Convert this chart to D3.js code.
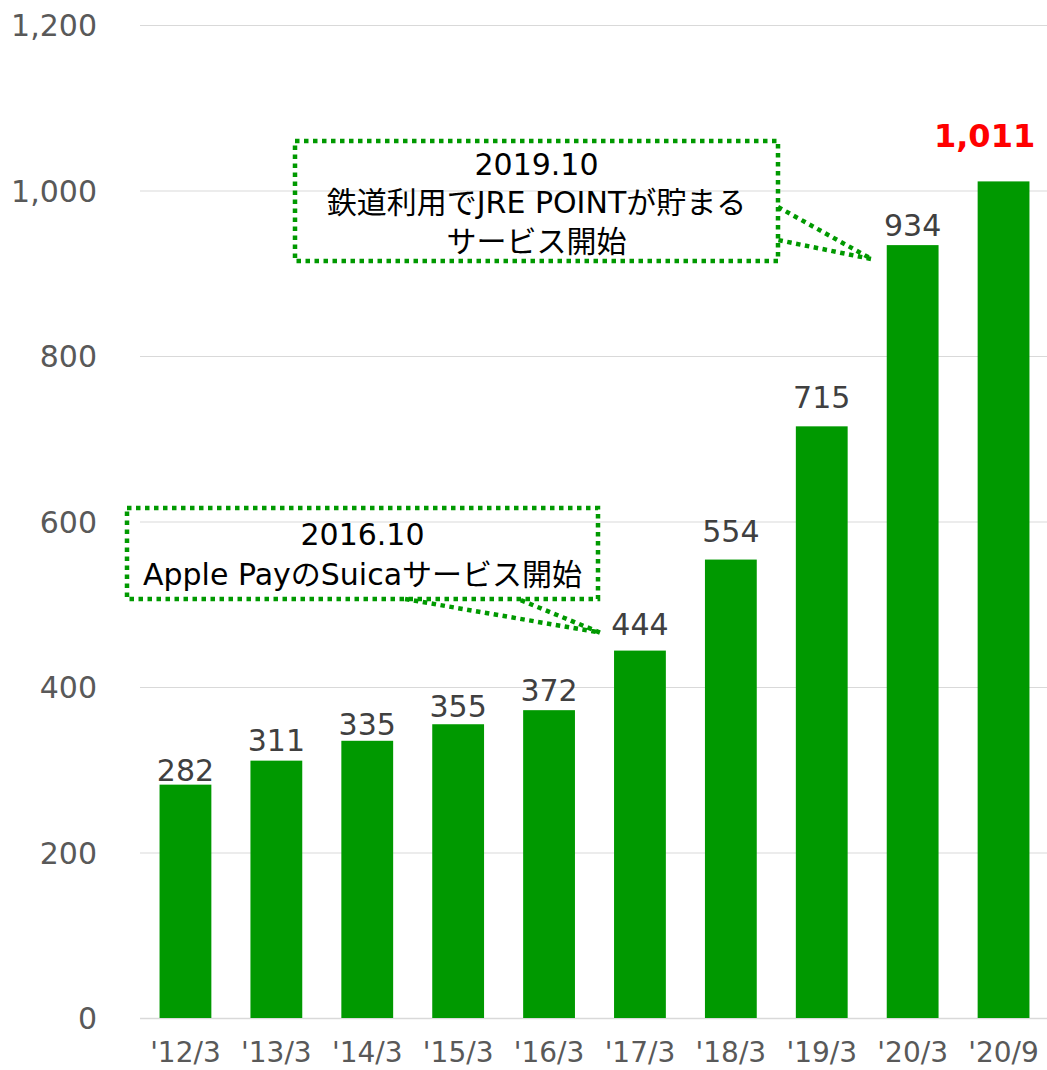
<!DOCTYPE html>
<html>
<head>
<meta charset="utf-8">
<script src="https://cdn.jsdelivr.net/npm/d3@7"></script>
<style>
  body { margin: 0; background: #fff; }
  text { font-family: "DejaVu Sans", "Noto Sans CJK JP", sans-serif; }
</style>
</head>
<body>
<svg id="chart" width="1047" height="1070"></svg>
<script>
const categories = ["'12/3", "'13/3", "'14/3", "'15/3", "'16/3", "'17/3", "'18/3", "'19/3", "'20/3", "'20/9"];
const values = [282, 311, 335, 355, 372, 444, 554, 715, 934, 1011];
const yTicks = [0, 200, 400, 600, 800, 1000, 1200];

const note1Lines = ["2019.10", "鉄道利用でJRE POINTが貯まる", "サービス開始"];
const note2Lines = ["2016.10", "Apple PayのSuicaサービス開始"];

const svg = d3.select('#chart');
const green = '#009900';
// gap between label baseline and bar top (labels were placed by hand in the original)
const labelGap = [4, 10, 6, 7, 9, 16, 18, 18, 9, 34];

const x = d3.scaleBand()
    .domain(categories)
    .range([140, 1049])
    .paddingInner(0.43)
    .paddingOuter(0.215);

const y = d3.scaleLinear()
    .domain([0, 1200])
    .range([1018, 25]);

// gridlines
svg.append('g')
    .selectAll('line')
    .data(yTicks)
    .enter()
    .append('line')
    .attr('x1', 140)
    .attr('x2', 1047)
    .attr('y1', d => y(d) + 0.5)
    .attr('y2', d => y(d) + 0.5)
    .attr('stroke', '#d9d9d9')
    .attr('stroke-width', d => d === 0 ? 1.5 : 1);

// y axis labels
const yAxis = svg.append('g')
    .attr('transform', 'translate(97,0)')
    .call(d3.axisLeft(y).tickValues(yTicks).tickFormat(d3.format(',')).tickSize(0).tickPadding(0));
yAxis.select('.domain').remove();
yAxis.selectAll('text')
    .attr('fill', '#595959')
    .style('font-size', '30px')
    .attr('dy', '0.36em');

// x axis labels
const xAxis = svg.append('g')
    .attr('transform', 'translate(0,1018)')
    .call(d3.axisBottom(x).tickSize(0).tickPadding(24));
xAxis.select('.domain').remove();
xAxis.selectAll('text')
    .attr('fill', '#595959')
    .style('font-size', '28px');

// bars
svg.append('g')
    .selectAll('rect')
    .data(values)
    .enter()
    .append('rect')
    .attr('x', (d, i) => x(categories[i]))
    .attr('width', x.bandwidth())
    .attr('y', d => y(d))
    .attr('height', d => y(0) - y(d))
    .attr('fill', green);

// value labels
const last = values.length - 1;
svg.append('g')
    .selectAll('text')
    .data(values)
    .enter()
    .append('text')
    .attr('x', (d, i) => {
        const cx = x(categories[i]) + x.bandwidth() / 2;
        return i === last ? cx - 19 : cx;
    })
    .attr('y', (d, i) => y(d) - labelGap[i])
    .attr('text-anchor', 'middle')
    .attr('fill', (d, i) => i === last ? '#ff0000' : '#404040')
    .style('font-size', (d, i) => i === last ? '32px' : '30px')
    .style('font-weight', (d, i) => i === last ? 'bold' : 'normal')
    .text(d3.format(','));

// callouts
function callout(box, lines, lineY, pointer) {
    const g = svg.append('g');
    g.append('rect')
        .attr('x', box.x).attr('y', box.y)
        .attr('width', box.w).attr('height', box.h)
        .attr('fill', 'none')
        .attr('stroke', green)
        .attr('stroke-width', 4.5)
        .attr('stroke-dasharray', '4.5 4.5');
    g.append('path')
        .attr('d', d3.line()(pointer))
        .attr('fill', 'none')
        .attr('stroke', green)
        .attr('stroke-width', 4.5)
        .attr('stroke-dasharray', '4.5 4.5');
    g.selectAll('text')
        .data(lines)
        .enter()
        .append('text')
        .attr('x', box.x + box.w / 2)
        .attr('y', (d, i) => lineY[i])
        .attr('text-anchor', 'middle')
        .attr('fill', '#000')
        .style('font-size', '30px')
        .text(d => d);
}

const tip1 = [x(categories[8]) - 15, y(934) + 14];
callout({ x: 295, y: 141, w: 483, h: 120 }, note1Lines, [175, 213, 252],
    [[778, 207], tip1, [778, 240]]);

const tip2 = [x(categories[5]) - 14, y(444) - 18];
callout({ x: 127, y: 508, w: 471, h: 91 }, note2Lines, [545, 585],
    [[405, 599], tip2, [518, 599]]);
</script>
</body>
</html>
